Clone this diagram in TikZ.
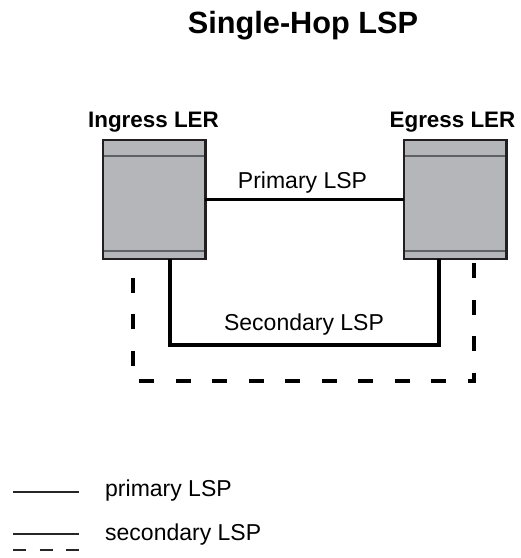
\documentclass[tikz,border=0pt]{standalone}
\usepackage{fontspec}
\setmainfont{Liberation Sans}
\usetikzlibrary{calc}
\definecolor{boxfill}{HTML}{B5B6B9}
\definecolor{boxedge}{HTML}{231F20}
\definecolor{innerline}{HTML}{5E6166}
\begin{document}
\begin{tikzpicture}[x=1pt,y=-1pt,
  box/.style={draw=boxedge,line width=2.5pt,fill=boxfill,minimum width=102.5pt,minimum height=119pt,inner sep=0pt,outer sep=0pt},
  inner/.style={draw=innerline,line width=1.5pt},
  lsp/.style={draw=black,line width=3.5pt},
  lspdash/.style={draw=black,line width=3.5pt,dash pattern=on 15pt off 21.5pt,dash phase=32.5pt},
  leg/.style={draw=black!85,line width=1.8pt},
  title/.style={font=\fontsize{30.7}{34}\selectfont\bfseries,anchor=base,inner sep=0pt},
  ler/.style={font=\fontsize{22.4}{26}\selectfont\bfseries,anchor=base,inner sep=0pt},
  lbl/.style={font=\fontsize{23}{27}\selectfont,anchor=base,inner sep=0pt},
  leglbl/.style={font=\fontsize{23}{27}\selectfont,anchor=base west,inner sep=0pt}]
\useasboundingbox (0,0) rectangle (521,558);
\node[title] (t) at (303,33) {Single-Hop LSP};
\node[ler] (ingl) at (153.5,127) {Ingress LER};
\node[ler] (egl) at (452.5,127) {Egress LER};
\node[box] (ing) at (154,199.5) {};
\node[box] (eg) at (455,199.5) {};
\foreach \n in {ing,eg}{
  \draw[inner] ($(\n.north west)+(0,16)$) -- ($(\n.north east)+(0,16)$);
  \draw[inner] ($(\n.south west)+(0,-8)$) -- ($(\n.south east)+(0,-8)$);
  \draw[draw=boxedge,line width=2.5pt] (\n.north west) rectangle (\n.south east);
}
\draw[lsp] (ing.east) -- (eg.west);
\node[lbl] (pl) at (302.5,188) {Primary LSP};
\draw[lsp] ([xshift=16pt]ing.south) -- ++(0,86) -| ([xshift=-16pt]eg.south);
\node[lbl] (sl) at (304,330) {Secondary LSP};
\draw[lspdash] ([xshift=19pt]eg.south) -- ++(0,122) -| ([xshift=-21pt]ing.south);
% legend
\coordinate (l1a) at (13,492);
\coordinate (l1b) at (79,492);
\draw[leg] (l1a) -- (l1b);
\node[leglbl] (l1t) at (105,496) {primary LSP};
\coordinate (l2a) at (13,534);
\coordinate (l2b) at (79,534);
\draw[leg] (l2a) -- (l2b);
\coordinate (l3a) at (13,550);
\coordinate (l3b) at (80,550);
\draw[leg,dash pattern=on 13pt off 13.5pt] (l3a) -- (l3b);
\node[leglbl] (l2t) at (105,540) {secondary LSP};
\end{tikzpicture}
\end{document}
